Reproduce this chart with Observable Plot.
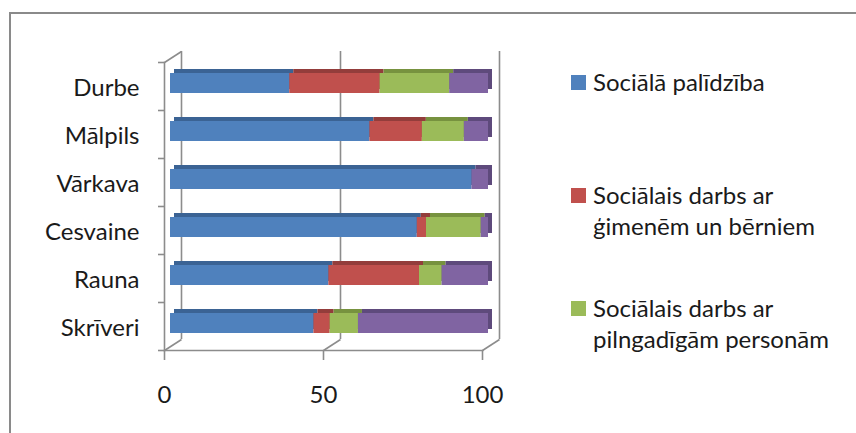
<!DOCTYPE html>
<html>
<head>
<meta charset="utf-8">
<script src="https://cdn.jsdelivr.net/npm/d3@7"></script>
<script src="https://cdn.jsdelivr.net/npm/@observablehq/plot@0.6"></script>
<style>
  html, body { margin: 0; padding: 0; background: #fff; }
  #wrap { position: relative; width: 856px; height: 433px; overflow: hidden; font-family: Lato, sans-serif; color: #1a1a1a; }
  #border { position: absolute; left: 9px; top: 12px; width: 900px; height: 500px; border-left: 2px solid #8a8a8a; border-top: 2px solid #8a8a8a; }
  #chart { position: absolute; left: 0; top: 0; }
  .leg { position: absolute; left: 571px; font-size: 24px; line-height: 31px; }
  .leg .sw { position: absolute; left: 0; width: 15px; height: 15px; }
  .leg .tx { position: absolute; left: 22px; white-space: nowrap; }
</style>
</head>
<body>
<div id="wrap">
  <div id="border"></div>
  <div id="chart"></div>
  <div id="legend"></div>
</div>
<script>
// ---- data ----
const categories = ["Durbe", "Mālpils", "Vārkava", "Cesvaine", "Rauna", "Skrīveri"];
const seriesNames = [
  "Sociālā palīdzība",
  "Sociālais darbs ar ģimenēm un bērniem",
  "Sociālais darbs ar pilngadīgām personām",
  "Citi"
];
const legendLines = [
  ["Sociālā palīdzība"],
  ["Sociālais darbs ar", "ģimenēm un bērniem"],
  ["Sociālais darbs ar", "pilngadīgām personām"]
];
const socialaPalidziba   = [37.5, 62.7, 94.8, 77.6, 49.8, 45.1];
const darbsGimenes       = [28.4, 16.5, 0,    2.9,  28.5, 5.1];
const darbsPilngadigie   = [21.9, 13.2, 0,    17.2, 7.1,  8.9];
const citi               = [12.2, 7.6,  5.2,  2.3,  14.6, 40.9];
const xTicks = [0, 50, 100];

// ---- styles ----
const frontColors = ["#4F81BD", "#C0504D", "#9BBB59", "#8064A2"];
const topColors   = ["#3B6394", "#933D3B", "#77923F", "#5E4A7C"];
const axisGray = "#8c8c8c";
const textColor = "#1a1a1a";

// ---- layout ----
const W = 856, H = 433, ML = 170, MR = 368, MT = 62, MB = 83;
const yPx0 = 83, yStep = 48;
const pxPerX = (W - ML - MR) / 100;
const toX = px => px / pxPerX;
const toY = px => px / yStep;
const yTop = (MT - yPx0) / yStep;
const yBottom = (H - MB - yPx0) / yStep;
const DX = 17, DY = 11, FX = -6;
const hh = toY(10);

const series = [socialaPalidziba, darbsGimenes, darbsPilngadigie, citi];
const rows = [];
categories.forEach((c, i) => {
  let acc = 0;
  series.forEach((vals, k) => {
    const v = vals[i];
    if (v > 0) rows.push({i, cat: c, series: seriesNames[k], x1: acc, x2: acc + v, front: frontColors[k], top: topColors[k]});
    acc += v;
  });
});
const boundaries = d3.range(categories.length + 1).map(k => yTop + k);

const chart = Plot.plot({
  width: W, height: H,
  marginLeft: ML, marginRight: MR, marginTop: MT, marginBottom: MB,
  x: {domain: [0, 100]},
  y: {domain: [0, categories.length - 1], range: [yPx0, yPx0 + yStep * (categories.length - 1)]},
  color: {type: "identity"},
  style: {fontFamily: "Lato, sans-serif", fontSize: "24px", background: "transparent", overflow: "visible", color: textColor},
  marks: [
    // back wall gridlines
    Plot.ruleX(xTicks, {x: d => d, dx: DX + FX, dy: -DY, stroke: axisGray, strokeWidth: 1.6}),
    // floor diagonals
    Plot.link(xTicks, {x1: d => d, y1: yBottom, x2: d => d + toX(DX), y2: yBottom - toY(DY), dx: FX, stroke: axisGray, strokeWidth: 1.6}),
    // left wall top diagonal
    Plot.link([0], {x1: 0, y1: yTop, x2: toX(DX), y2: yTop - toY(DY), dx: FX, stroke: axisGray, strokeWidth: 1.6}),
    // left wall and floor front lines
    Plot.frame({anchor: "left", dx: FX, stroke: axisGray, strokeWidth: 1.6}),
    Plot.frame({anchor: "bottom", dx: FX, stroke: axisGray, strokeWidth: 1.6}),
    // left ticks
    Plot.ruleY(boundaries, {y: d => d, x1: -toX(6), x2: 0, dx: FX, stroke: axisGray, strokeWidth: 1.6}),
    // bottom ticks
    Plot.ruleX(xTicks, {x: d => d, y1: yBottom, y2: yBottom + toY(10), dx: FX, stroke: axisGray, strokeWidth: 1.6}),
    // bars: depth (top + side) then front faces
    Plot.rect(rows, {x1: "x1", x2: "x2", y1: d => d.i - hh, y2: d => d.i + hh, fill: "top", dx: 4, dy: -4}),
    Plot.rect(rows, {x1: "x1", x2: "x2", y1: d => d.i - hh, y2: d => d.i + hh, fill: "front"}),
    // axes labels
    Plot.axisY(d3.range(categories.length), {anchor: "left", tickSize: 0, tickPadding: 31, tickFormat: i => categories[i], fontSize: 24, fill: textColor, dy: 5, label: null}),
    Plot.axisX(xTicks, {anchor: "bottom", tickSize: 0, tickPadding: 35, dx: FX, fontSize: 24, fill: textColor, label: null})
  ]
});
document.getElementById("chart").appendChild(chart);

// ---- legend (three visible entries, as in the reference) ----
const legendTops = [66, 179, 292];
const legend = document.getElementById("legend");
legendLines.forEach((lines, k) => {
  const item = document.createElement("div");
  item.className = "leg";
  item.style.top = legendTops[k] + "px";
  const sw = document.createElement("div");
  sw.className = "sw";
  sw.style.background = frontColors[k];
  sw.style.top = "9px";
  const tx = document.createElement("div");
  tx.className = "tx";
  tx.innerHTML = lines.join("<br>");
  item.appendChild(sw);
  item.appendChild(tx);
  legend.appendChild(item);
});
</script>
</body>
</html>
